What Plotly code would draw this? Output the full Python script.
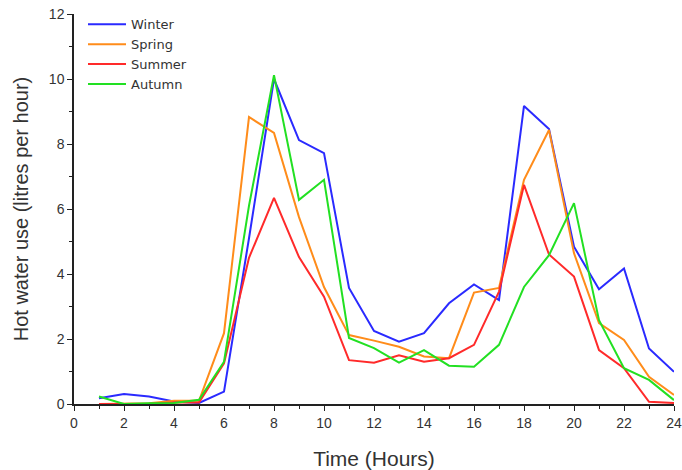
import plotly.graph_objects as go

hours = list(range(1, 25))
winter = [0.18, 0.31, 0.23, 0.08, 0.03, 0.38, 5.1, 10.0, 8.12, 7.72, 3.57, 2.25,
          1.92, 2.18, 3.1, 3.68, 3.2, 9.17, 8.46, 4.84, 3.53, 4.17, 1.71, 0.99]
spring = [0.0, 0.0, 0.02, 0.1, 0.1, 2.18, 8.83, 8.34, 5.75, 3.6, 2.12, 1.95,
          1.76, 1.46, 1.41, 3.43, 3.57, 6.9, 8.43, 4.64, 2.49, 1.97, 0.84, 0.28]
summer = [0.0, 0.0, 0.0, 0.05, 0.05, 1.25, 4.5, 6.34, 4.52, 3.3, 1.35, 1.27,
          1.5, 1.3, 1.41, 1.82, 3.46, 6.74, 4.6, 3.92, 1.66, 1.1, 0.07, 0.03]
autumn = [0.23, 0.0, 0.02, 0.03, 0.13, 1.3, 6.1, 10.12, 6.28, 6.9, 2.03, 1.72,
          1.27, 1.66, 1.18, 1.15, 1.82, 3.6, 4.58, 6.18, 2.58, 1.1, 0.74, 0.12]

series = [("Winter", winter, "#2a2aff"), ("Spring", spring, "#ff8c1a"),
          ("Summer", summer, "#ff2a2a"), ("Autumn", autumn, "#22e022")]

fig = go.Figure()
for name, vals, col in series:
    fig.add_trace(go.Scatter(x=hours, y=vals, name=name, mode="lines",
                             line=dict(color=col, width=2)))

axis_font = dict(family="Liberation Sans, Arial, sans-serif", size=14, color="#333333")
fig.update_layout(
    width=682, height=470,
    margin=dict(l=74, r=8, t=14, b=66),
    plot_bgcolor="white", paper_bgcolor="white",
    font=dict(family="Liberation Sans, Arial, sans-serif", color="#333333"),
    legend=dict(x=0.015, y=1.012, xanchor="left", yanchor="top",
                bgcolor="rgba(0,0,0,0)",
                font=dict(family="DejaVu Sans, sans-serif", size=13, color="#333333"),
                tracegroupgap=0, itemwidth=38),
    xaxis=dict(range=[0, 24], tickmode="linear", tick0=0, dtick=2,
               showgrid=False, zeroline=False, showline=True, linecolor="#222222",
               linewidth=1.5, ticks="outside", ticklen=5, tickcolor="#222222",
               tickfont=axis_font, automargin=False,
               minor=dict(dtick=1, ticks="outside", ticklen=3, tickcolor="#222222"),
               title=dict(text="Time (Hours)", font=dict(size=21, color="#333333"),
                          standoff=22)),
    yaxis=dict(range=[0, 12], tickmode="linear", tick0=0, dtick=2,
               showgrid=False, zeroline=False, showline=True, linecolor="#222222",
               linewidth=1.5, ticks="outside", ticklen=5, tickcolor="#222222",
               tickfont=axis_font, automargin=False,
               minor=dict(dtick=1, ticks="outside", ticklen=3, tickcolor="#222222"),
               title=dict(text="Hot water use (litres per hour)",
                          font=dict(size=20, color="#333333"))),
)

fig.write_html("out.html")
